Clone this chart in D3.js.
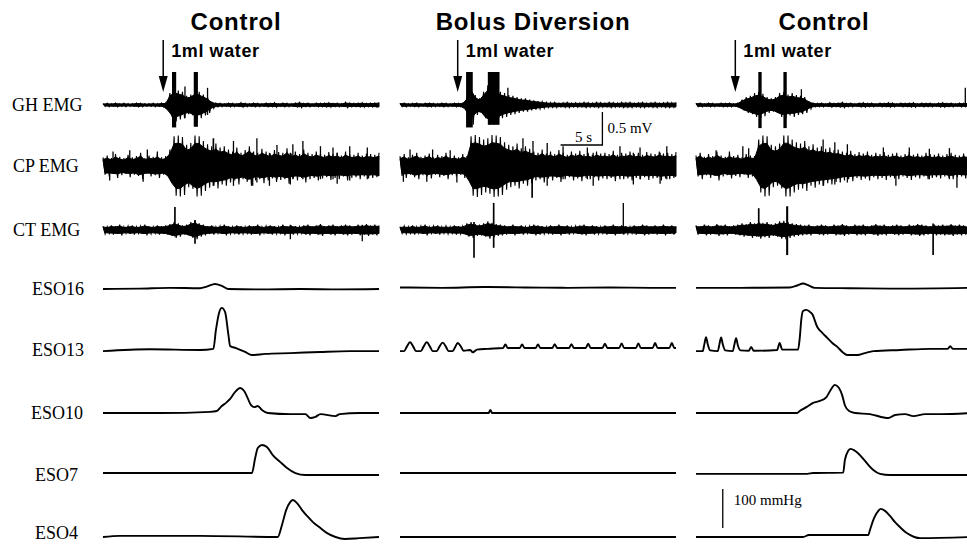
<!DOCTYPE html>
<html>
<head>
<meta charset="utf-8">
<script src="https://cdn.jsdelivr.net/npm/d3@7"></script>
<style>
  body { margin: 0; background: #fff; }
  svg { display: block; }
</style>
</head>
<body>
<svg id="chart"></svg>
<script>
// ---- data (times in s, EMG in mV, pressure in mmHg) ----
var conditions = ["Control", "Bolus Diversion", "Control"];
var emgChannels = ["GH EMG", "CP EMG", "CT EMG"];
var esoChannels = ["ESO16", "ESO13", "ESO10", "ESO7", "ESO4"];
var bolusLabel = "1ml water";
var bolusTimes = [7.2, 6.9, 4.7];
var duration = 33;

// EMG amplitude envelope, one value every 0.5 s
var ghEmg = [
  [0.02,0.025,0.02,0.03,0.02,0.025,0.02,0.02,0.03,0.025,0.02,0.02,0.025,0.02,0.03,0.03,
   0.18,0.25,0.22,0.2,0.14,0.16,0.22,0.2,0.16,0.12,0.05,
   0.03,0.025,0.02,0.03,0.025,0.02,0.035,0.025,0.02,0.03,0.025,0.02,0.03,0.025,0.035,0.02,0.03,0.025,0.02,0.03,0.04,0.025,0.03,0.02,0.03,0.025,0.03,0.035,0.025,0.03,0.02,0.04,0.03,0.025,0.03,0.035,0.025,0.03,0.03,0.04],
  [0.025,0.03,0.02,0.025,0.03,0.02,0.025,0.03,0.025,0.02,0.03,0.025,0.02,0.03,0.025,0.03,
   0.12,0.3,0.15,0.1,0.2,0.3,0.3,0.28,0.2,0.18,0.15,0.14,0.12,0.1,0.1,0.08,0.07,0.06,0.05,
   0.04,0.035,0.04,0.03,0.035,0.04,0.03,0.035,0.03,0.04,0.035,0.03,0.04,0.035,0.03,0.04,0.035,0.03,0.04,0.035,0.04,0.03,0.035,0.04,0.03,0.035,0.04,0.03,0.035,0.04,0.035,0.04],
  [0.025,0.03,0.02,0.03,0.025,0.02,0.03,0.025,0.03,0.02,0.03,
   0.08,0.12,0.14,0.18,0.2,0.17,0.12,0.1,0.12,0.18,0.2,0.16,0.18,0.15,0.14,0.12,0.06,
   0.03,0.025,0.03,0.02,0.035,0.025,0.03,0.04,0.025,0.03,0.02,0.03,0.035,0.025,0.03,0.02,0.03,0.025,0.035,0.03,0.02,0.03,0.025,0.03,0.035,0.02,0.03,0.025,0.03,0.02,0.03,0.035,0.025,0.03,0.02,0.03,0.025,0.03,0.03]
];
var cpEmg = [
  [0.13,0.16,0.12,0.18,0.14,0.12,0.17,0.13,0.15,0.2,0.12,0.16,0.14,0.18,0.13,0.15,
   0.25,0.45,0.46,0.44,0.32,0.35,0.46,0.45,0.38,0.33,0.3,0.34,0.28,0.3,
   0.25,0.22,0.28,0.2,0.24,0.3,0.22,0.2,0.26,0.22,0.19,0.24,0.21,0.2,0.27,0.19,0.22,0.18,0.25,0.2,0.18,0.22,0.19,0.17,0.21,0.18,0.2,0.16,0.22,0.18,0.17,0.2,0.16,0.19,0.18,0.17,0.2],
  [0.15,0.18,0.13,0.17,0.2,0.14,0.16,0.19,0.13,0.17,0.15,0.2,0.14,0.16,0.13,0.18,0.15,
   0.45,0.47,0.44,0.4,0.42,0.47,0.46,0.44,
   0.36,0.32,0.3,0.34,0.27,0.3,0.26,
   0.22,0.2,0.25,0.19,0.22,0.18,0.24,0.2,0.17,0.22,0.19,0.23,0.18,0.2,0.17,0.22,0.19,0.2,0.18,0.23,0.17,0.2,0.19,0.22,0.18,0.2,0.17,0.21,0.19,0.18,0.22,0.19,0.2,0.18,0.21],
  [0.16,0.2,0.14,0.18,0.15,0.22,0.16,0.14,0.19,0.15,0.17,0.13,0.18,0.16,0.15,
   0.4,0.46,0.45,0.32,0.3,0.34,0.46,0.46,0.4,0.36,0.34,0.38,0.3,0.33,0.28,0.3,0.26,0.28,0.24,0.25,0.22,
   0.2,0.23,0.18,0.21,0.19,0.22,0.17,0.2,0.18,0.21,0.17,0.19,0.2,0.16,0.18,0.21,0.17,0.19,0.16,0.2,0.18,0.17,0.19,0.16,0.18,0.2,0.17,0.16,0.19,0.17,0.18]
];
var ctEmg = [
  [0.06,0.05,0.07,0.06,0.08,0.05,0.06,0.07,0.05,0.06,0.08,0.06,0.05,0.07,0.06,0.07,
   0.09,0.12,0.1,0.07,0.08,0.12,0.14,0.1,0.08,
   0.06,0.07,0.05,0.06,0.08,0.06,0.05,0.07,0.06,0.05,0.07,0.06,0.08,0.05,0.06,0.07,0.06,0.05,0.08,0.06,0.07,0.06,0.05,0.07,0.08,0.06,0.07,0.09,0.06,0.07,0.08,0.06,0.07,0.08,0.07,0.06,0.08,0.07,0.09,0.07,0.08,0.07],
  [0.05,0.06,0.05,0.07,0.05,0.06,0.08,0.05,0.06,0.07,0.05,0.06,0.05,0.07,0.06,0.06,
   0.1,0.12,0.09,0.08,0.1,0.13,0.11,0.09,0.08,
   0.07,0.06,0.08,0.06,0.07,0.05,0.06,0.08,0.07,0.06,0.05,0.07,0.06,0.08,0.06,0.07,0.05,0.06,0.07,0.08,0.06,0.07,0.06,0.05,0.07,0.06,0.08,0.06,0.07,0.06,0.05,0.07,0.06,0.08,0.07,0.06,0.07,0.06,0.08,0.06,0.07,0.06],
  [0.07,0.06,0.08,0.07,0.06,0.09,0.07,0.08,0.06,0.07,0.08,
   0.1,0.09,0.12,0.1,0.13,0.11,0.12,0.09,0.1,0.13,0.14,0.12,0.1,0.09,
   0.08,0.07,0.08,0.06,0.07,0.08,0.07,0.06,0.08,0.07,0.09,0.07,0.06,0.08,0.07,0.08,0.06,0.07,0.09,0.07,0.08,0.06,0.07,0.08,0.07,0.06,0.08,0.07,0.09,0.08,0.07,0.06,0.08,0.07,0.08,0.07,0.09,0.07,0.08,0.07,0.06,0.08]
];

// isolated EMG spikes: [time, up mV, down mV, width s]
var ghSpikes = [
  [[8.5,0.5,0.34,0.5],[9.8,0.28,0.2,0.15],[11.1,0.5,0.33,0.5],[12.5,0.26,0.15,0.15]],
  [[8.3,0.5,0.34,0.8],[11.2,0.5,0.3,1.4],[12.9,0.26,0.12,0.15]],
  [[7.65,0.5,0.35,0.4],[10.65,0.5,0.35,0.4],[12.6,0.24,0.12,0.15],[32.2,0.26,0.02,0.15]]
];
var cpSpikes = [
  [[0.8,0.1,0.22,0.15],[1.2,0.22,0.1,0.15],[3.2,0.24,0.1,0.15],[4.8,0.1,0.24,0.15],[5.3,0.25,0.1,0.15],[6.5,0.22,0.12,0.15],
   [13.2,0.42,0.3,0.2],[15.6,0.38,0.3,0.15],[17.9,0.2,0.3,0.15],[18.4,0.42,0.25,0.15],[19.9,0.2,0.3,0.15],[20.8,0.32,0.2,0.15],
   [22.4,0.2,0.28,0.15],[22.7,0.33,0.2,0.15],[23.9,0.38,0.2,0.15],[26,0.3,0.2,0.15],[27.5,0.28,0.2,0.15],[28,0.2,0.27,0.15],[29.5,0.3,0.22,0.15],[31.6,0.28,0.2,0.15]],
  [[0.4,0.1,0.24,0.15],[1.2,0.25,0.1,0.15],[3.2,0.1,0.24,0.15],[3.9,0.25,0.1,0.15],[6.0,0.24,0.1,0.15],[6.8,0.1,0.25,0.15],
   [14.7,0.42,0.2,0.15],[15.8,0.2,0.48,0.2],[15.9,0.38,0.2,0.15],[17.6,0.35,0.3,0.15],[19.5,0.3,0.2,0.15],[22.4,0.28,0.2,0.15],
   [23.1,0.2,0.3,0.15],[26.3,0.3,0.2,0.15],[27.9,0.2,0.28,0.15],[28.7,0.28,0.2,0.15],[31.1,0.2,0.27,0.15],[31.9,0.3,0.2,0.15]],
  [[2.4,0.24,0.1,0.15],[4.0,0.22,0.12,0.15],[5.6,0.3,0.1,0.15],[6.3,0.27,0.12,0.15],[15.2,0.4,0.3,0.15],[16.6,0.36,0.28,0.15],
   [18.1,0.33,0.25,0.15],[22.4,0.28,0.15,0.15],[23.9,0.15,0.3,0.15],[25.5,0.28,0.15,0.15],[27.9,0.26,0.2,0.15],[30.3,0.27,0.2,0.15],[31.2,0.1,0.33,0.15]]
];
var ctSpikes = [
  [[8.6,0.35,0.1,0.2],[11,0.15,0.21,0.2],[22.4,0.08,0.14,0.15],[31,0.08,0.17,0.15]],
  [[8.85,0.12,0.42,0.2],[11.2,0.41,0.27,0.2],[26.7,0.41,0.05,0.15]],
  [[7.5,0.33,0.1,0.2],[10.9,0.36,0.38,0.25],[28.35,0.1,0.38,0.2]]
];

// esophageal pressure traces: [time, mmHg]
var eso16 = [
  [[0,0],[4.4,1],[8,3],[11.6,2],[12.4,6],[13.4,13],[14.2,8],[15,0],[18.8,-1],[23.6,0],[28.3,-1],[33,0]],
  [[0,4],[5,3],[10,5],[15,4],[20,3],[25,4],[30,3],[33,3]],
  [[0,3],[5.3,3],[11.2,4],[12.1,9],[12.8,14],[13.4,10],[14.2,3],[18.4,2],[24.4,1],[33,3]]
];
var eso13 = [
  [[0,-3],[5.6,2],[11.6,0],[13.2,3],[13.5,51],[13.9,97],[14.2,108],[14.6,97],[15.0,38],[15.2,10],[15.9,5],[17.0,-5],[17.8,-13],[19.4,-10],[22.4,-8],[26,-5],[29.5,-3],[33,-3]],
  [[0,-3],[0.5,-3],[0.8,8],[1.2,20],[1.6,8],[1.9,-3],[2.5,-3],[2.8,8],[3.2,20],[3.6,8],[3.9,-3],[4.4,-3],[4.7,8],[5.1,19],[5.5,8],[5.8,-3],[6.3,-3],[6.6,8],[6.9,18],[7.3,8],[7.6,-2],[8.4,0],[8.7,-6],[9.2,1],[10.5,3],
   [12.3,5],[12.6,14],[12.9,5],[14.3,5],[14.6,14],[14.9,5],[16.2,5],[16.5,14],[16.8,5],[18.2,5],[18.5,15],[18.8,5],[20.2,5],[20.5,15],[20.8,5],[22.2,5],[22.5,16],[22.8,5],
   [24.2,5],[24.5,16],[24.8,5],[26.2,5],[26.5,17],[26.8,5],[28.2,5],[28.5,17],[28.8,5],[30.2,5],[30.5,18],[30.8,5],[32.2,5],[32.5,18],[32.8,5],[33,5]],
  [[0,-3],[0.8,-3],[1.0,15],[1.2,33],[1.4,15],[1.7,-1],[2.6,-3],[2.8,15],[3.0,32],[3.2,15],[3.5,-1],[4.4,-3],[4.6,15],[4.8,30],[5.0,12],[5.3,-1],[6.3,-2],[6.6,8],[6.9,-2],[9.7,0],[10.0,18],[10.3,1],
   [12.2,1],[12.4,30],[12.6,80],[12.8,100],[13.2,103],[13.6,98],[13.9,92],[14.5,59],[15.1,44],[15.7,31],[16.3,18],[16.9,8],[17.5,-5],[18.1,-13],[19.3,-13],[20.2,-8],[21.2,-3],[24.4,0],[28,3],[30.1,3],[30.4,10],[30.7,3],[33,3]]
];
var eso10 = [
  [[0,0],[6.8,0],[12.8,3],[13.6,5],[14.2,18],[14.7,26],[15.2,36],[15.8,54],[16.4,64],[16.9,56],[17.3,38],[17.7,20],[18.1,15],[18.5,18],[19.0,8],[19.7,0],[22.4,-3],[24.2,-3],[24.8,-13],[25.4,-10],[26,-3],[27.8,-8],[28.3,-3],[30.7,0],[33,0]],
  [[0,0],[10.6,0],[10.8,8],[11.0,0],[20,0],[33,0]],
  [[0,0],[12.1,0],[12.4,5],[13.2,15],[14.0,26],[14.8,31],[15.6,41],[16.1,59],[16.6,72],[17.1,64],[17.5,44],[17.8,20],[18.3,5],[19.0,0],[20.8,-3],[23.0,-13],[23.8,-5],[25,-3],[26,-8],[27.4,-3],[29.2,-3],[33,0]]
];
var eso7 = [
  [[0,5],[15,5],[17.8,5],[18.2,44],[18.5,69],[19.0,77],[19.6,72],[20.3,51],[21.2,33],[22.0,18],[23.0,5],[24.2,0],[33,0]],
  [[0,5],[33,5]],
  [[0,3],[13.3,3],[14,5],[17.6,6],[17.8,38],[18.2,62],[18.5,67],[19.0,62],[19.9,44],[20.6,26],[21.2,13],[22.0,3],[23.2,0],[33,0]]
];
var eso4 = [
  [[0,0],[2,3],[11.6,3],[20.9,0],[21.4,31],[21.9,69],[22.4,90],[22.7,95],[23.2,87],[23.8,69],[24.4,54],[25.1,38],[26,23],[26.8,10],[27.8,0],[28.9,-5],[30.7,-3],[33,0]],
  [[0,0],[33,0]],
  [[0,0],[12.8,0],[13.5,5],[20.6,5],[20.8,18],[21.3,49],[21.8,67],[22.1,72],[22.6,67],[23.2,54],[23.8,38],[24.5,23],[25.2,10],[26.1,0],[26.8,-3],[33,0]]
];

// ---- layout ----
var width = 967, height = 544;
var panelLeft = [103, 400, 696];
var panelWidth = 276;
var titleShift = [-5, -5, -10];
var emgRowY = [105, 166, 230];
var esoRowY = [289, 350, 413, 475, 537];
var labelX = [12, 13, 13, 32, 32, 31, 35, 35];
var labelDy = [6, 6, 6, 6, 6, 6, 6, 2];
var pxPerMv = 66, pxPerMmHg = 0.39;

var svg = d3.select("#chart").attr("width", width).attr("height", height);

var xScales = panelLeft.map(function(x0) {
  return d3.scaleLinear().domain([0, duration]).range([x0, x0 + panelWidth]);
});
function emgY(base) {
  return d3.scaleLinear().domain([-1, 1]).range([base + pxPerMv, base - pxPerMv]);
}
function pressY(base) {
  return d3.scaleLinear().domain([0, 100]).range([base, base - 100 * pxPerMmHg]);
}

// row labels
var allLabels = emgChannels.concat(esoChannels);
var allRowY = emgRowY.concat(esoRowY);
svg.append("g").selectAll("text").data(allLabels).enter().append("text")
  .attr("x", function(d, i) { return labelX[i]; })
  .attr("y", function(d, i) { return allRowY[i] + labelDy[i]; })
  .attr("font-family", "'Liberation Serif', 'Times New Roman', serif")
  .attr("font-size", 18)
  .text(function(d) { return d; });

// titles, arrows, bolus labels
conditions.forEach(function(c, p) {
  var x = xScales[p];
  svg.append("text")
    .attr("x", (x.range()[0] + x.range()[1]) / 2 + titleShift[p])
    .attr("y", 30)
    .attr("text-anchor", "middle")
    .attr("font-family", "'Liberation Sans', Arial, sans-serif")
    .attr("font-weight", "bold")
    .attr("font-size", 24)
    .attr("letter-spacing", 0.8)
    .text(c);

  var ax = x(bolusTimes[p]);
  svg.append("line")
    .attr("x1", ax).attr("x2", ax).attr("y1", 40).attr("y2", 82)
    .attr("stroke", "#000").attr("stroke-width", 1.5);
  svg.append("path")
    .attr("d", "M" + (ax - 4.5) + ",76L" + (ax + 4.5) + ",76L" + ax + ",92Z")
    .attr("fill", "#000");
  svg.append("text")
    .attr("x", ax + 8).attr("y", 57)
    .attr("font-family", "'Liberation Sans', Arial, sans-serif")
    .attr("font-weight", "bold")
    .attr("font-size", 18)
    .attr("letter-spacing", 0.6)
    .text(bolusLabel);
});

// EMG traces: solid core band plus a min/max zig-zag through the envelope
var emgSets = [[ghEmg, ghSpikes], [cpEmg, cpSpikes], [ctEmg, ctSpikes]];
emgSets.forEach(function(set, r) {
  var y = emgY(emgRowY[r]);
  set[0].forEach(function(amps, p) {
    var x = xScales[p];
    var dt = duration / (amps.length - 1);
    var top = amps.map(function(a, i) { return [i * dt, a]; });
    var bottom = amps.map(function(a, i) {
      var j = Math.min(i + 1, amps.length - 1);
      return [Math.min(i * dt + dt / 2, duration), -(a + amps[j]) / 2];
    }).reverse();
    var line = d3.line().x(function(d) { return x(d[0]); }).y(function(d) { return y(d[1]); });
    var core = d3.line().x(function(d) { return x(d[0]); }).y(function(d) { return y(d[1] * 0.75); });
    svg.append("path")
      .attr("d", core(top.concat(bottom)) + "Z")
      .attr("fill", "#000")
      .attr("stroke", "#000")
      .attr("stroke-width", 1);
    var zig = [];
    amps.forEach(function(a, i) {
      zig.push([i * dt, a]);
      if (i < amps.length - 1) zig.push([i * dt + dt / 2, -a]);
    });
    svg.append("path")
      .attr("d", line(zig))
      .attr("fill", "none")
      .attr("stroke", "#000")
      .attr("stroke-width", 1.1);
    svg.append("g").selectAll("line").data(set[1][p]).enter().append("line")
      .attr("x1", function(d) { return x(d[0]); })
      .attr("x2", function(d) { return x(d[0]); })
      .attr("y1", function(d) { return y(d[1]); })
      .attr("y2", function(d) { return y(-d[2]); })
      .attr("stroke", "#000")
      .attr("stroke-width", function(d) { return Math.max(1.3, x(d[3]) - x(0)); });
  });
});

// esophageal pressure traces
var esoSets = [eso16, eso13, eso10, eso7, eso4];
esoSets.forEach(function(set, r) {
  var y = pressY(esoRowY[r]);
  set.forEach(function(pts, p) {
    var x = xScales[p];
    var line = d3.line()
      .x(function(d) { return x(d[0]); })
      .y(function(d) { return y(d[1]); })
      .curve(d3.curveMonotoneX);
    svg.append("path")
      .attr("d", line(pts))
      .attr("fill", "none")
      .attr("stroke", "#000")
      .attr("stroke-width", 1.9);
  });
});

// calibration bars
var serif = "'Liberation Serif', 'Times New Roman', serif";
var xb = xScales[1], yb = emgY(145);
svg.append("path")
  .attr("d", "M" + xb(19.2) + "," + yb(0) + "H" + xb(24.2) + "V" + yb(0.5))
  .attr("fill", "none").attr("stroke", "#000").attr("stroke-width", 1.3);
svg.append("text").attr("x", xb(21.7) + 2).attr("y", 142).attr("text-anchor", "middle")
  .attr("font-family", serif).attr("font-size", 15).text("5 s");
svg.append("text").attr("x", xb(24.2) + 5).attr("y", 133)
  .attr("font-family", serif).attr("font-size", 15).text("0.5 mV");

var xp = xScales[2], yp = pressY(528);
svg.append("line")
  .attr("x1", xp(3.2)).attr("x2", xp(3.2)).attr("y1", yp(0)).attr("y2", yp(100))
  .attr("stroke", "#000").attr("stroke-width", 1.3);
svg.append("text").attr("x", xp(3.2) + 11).attr("y", 505)
  .attr("font-family", serif).attr("font-size", 15).text("100 mmHg");
</script>
</body>
</html>
